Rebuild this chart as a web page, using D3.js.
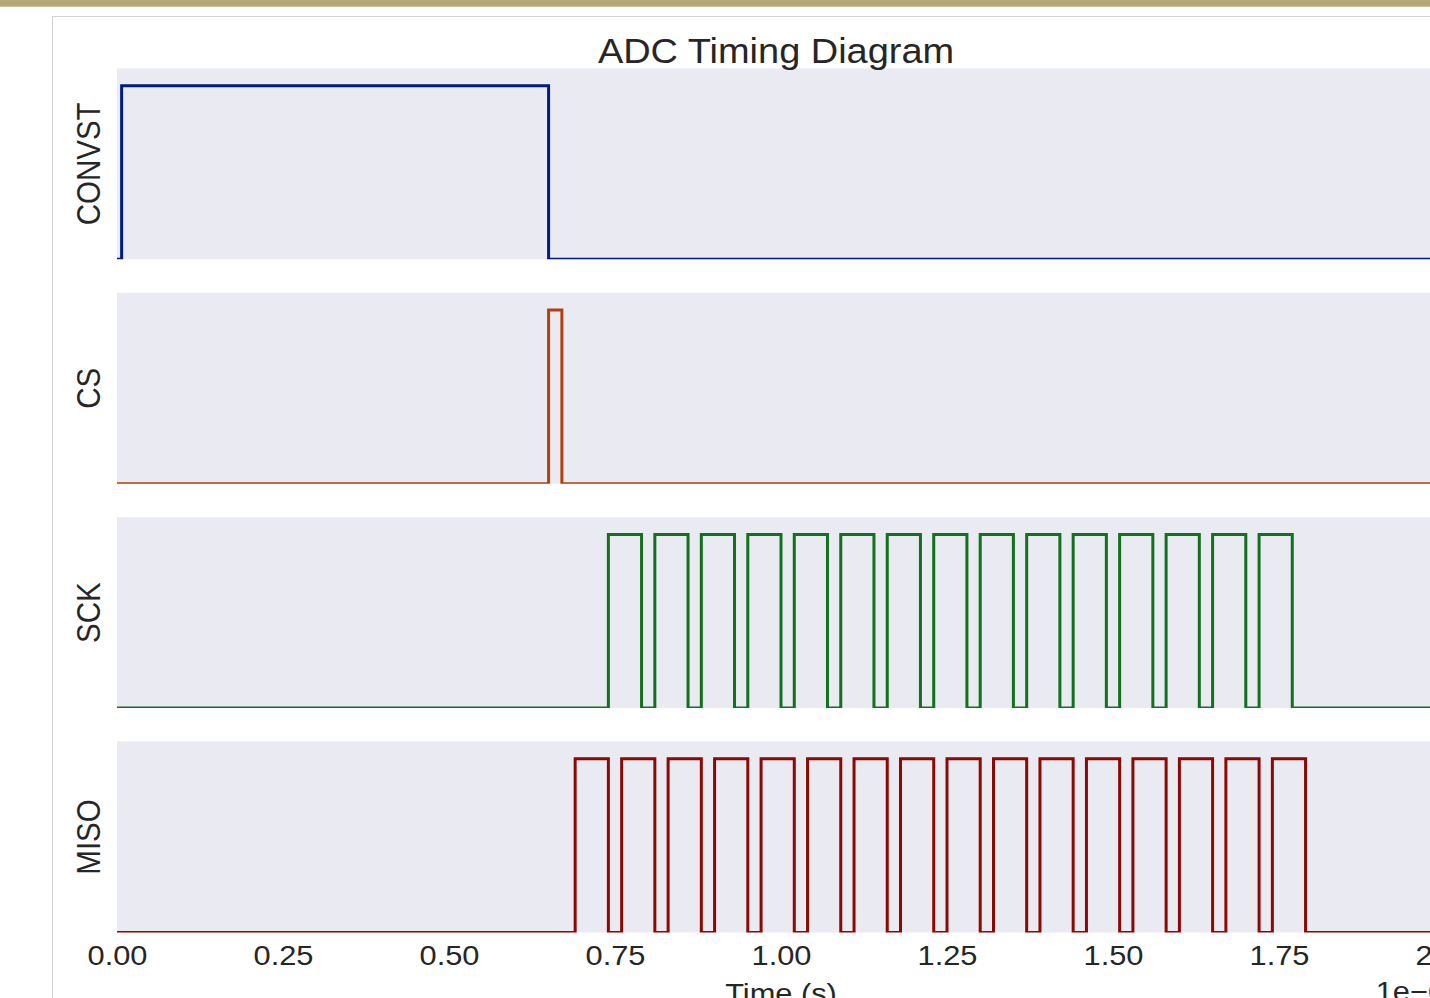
<!DOCTYPE html>
<html>
<head>
<meta charset="utf-8">
<script src="https://cdn.jsdelivr.net/npm/d3@7"></script>
<style>
  html, body { margin: 0; padding: 0; background: #fff; overflow: hidden; }
  svg { display: block; }
  text { font-family: "Liberation Sans", Arial, Helvetica, sans-serif; fill: #262626; }
</style>
</head>
<body>
<svg id="chart" width="1430" height="998"></svg>
<script>
// ---------------- data (times in microseconds, axis shows ×1e−6 s) ----------------
const title = "ADC Timing Diagram";
const xLabel = "Time (s)";
const offsetLabel = "1e\u22126";
const signalNames = ["CONVST", "CS", "SCK", "MISO"];
const signalColors = ["#001c7f", "#b1400d", "#12711c", "#8c0800"];
const xTicks = [0.00, 0.25, 0.50, 0.75, 1.00, 1.25, 1.50, 1.75, 2.00];
const xDomain = [0, 2.0];
const yDomain = [0, 1.1];

// high pulses as [rise, fall] pairs, signal is low elsewhere
const convstPulses = [[0.007, 0.650]];
const csPulses = [[0.650, 0.670]];
const sckPulses = [
  [0.74, 0.79], [0.81, 0.86], [0.88, 0.93], [0.95, 1.00], [1.02, 1.07],
  [1.09, 1.14], [1.16, 1.21], [1.23, 1.28], [1.30, 1.35], [1.37, 1.42],
  [1.44, 1.49], [1.51, 1.56], [1.58, 1.63], [1.65, 1.70], [1.72, 1.77]
];
const misoPulses = [
  [0.69, 0.74], [0.76, 0.81], [0.83, 0.88], [0.90, 0.95], [0.97, 1.02],
  [1.04, 1.09], [1.11, 1.16], [1.18, 1.23], [1.25, 1.30], [1.32, 1.37],
  [1.39, 1.44], [1.46, 1.51], [1.53, 1.58], [1.60, 1.65], [1.67, 1.72],
  [1.74, 1.79]
];
const allPulses = [convstPulses, csPulses, sckPulses, misoPulses];

// ---------------- layout ----------------
const svg = d3.select("#chart");
const SX = 1.1; // horizontal text stretch of the reference
const left = 117, right = 1445;
const panelTop0 = 68.3, panelH = 191, panelPitch = 224.4;

// page chrome
svg.append("rect").attr("x", 0).attr("y", 0).attr("width", 1430).attr("height", 6.7).attr("fill", "#b6a676");
svg.append("rect").attr("x", 52.5).attr("y", 16.5).attr("width", 1500).attr("height", 1100)
  .attr("fill", "#fff").attr("stroke", "#d2d2d2").attr("stroke-width", 1);

const x = d3.scaleLinear().domain(xDomain).range([left, right]);

function toSteps(pulses) {
  const pts = [[xDomain[0], 0]];
  pulses.forEach(([r, f]) => {
    pts.push([r, 0], [r, 1], [f, 1], [f, 0]);
  });
  pts.push([xDomain[1], 0]);
  return pts;
}

signalNames.forEach((name, i) => {
  const top = panelTop0 + i * panelPitch;
  const bottom = top + panelH;
  const y = d3.scaleLinear().domain(yDomain).range([bottom, top]);
  const g = svg.append("g");
  g.append("rect").attr("x", left).attr("y", top).attr("width", right - left).attr("height", panelH)
    .attr("fill", "#eaeaf2");
  const clipId = "clip" + i;
  svg.append("clipPath").attr("id", clipId).append("rect")
    .attr("x", left).attr("y", top).attr("width", right - left).attr("height", panelH);
  const line = d3.line().x(d => x(d[0])).y(d => y(d[1]));
  g.append("path").attr("d", line(toSteps(allPulses[i])))
    .attr("fill", "none").attr("stroke", signalColors[i]).attr("stroke-width", 3)
    .attr("stroke-linejoin", "miter").attr("clip-path", `url(#${clipId})`);
  // y label
  g.append("text")
    .attr("transform", `translate(100,${(top + bottom) / 2}) scale(${SX},1) rotate(-90)`)
    .attr("text-anchor", "middle").attr("font-size", 29.5).text(name);

  if (i === signalNames.length - 1) {
    const axis = d3.axisBottom(x).tickValues(xTicks).tickFormat(d3.format(".2f")).tickSize(0);
    const ag = svg.append("g").attr("transform", `translate(0,${bottom})`).call(axis);
    ag.select(".domain").remove();
    ag.selectAll("text")
      .attr("y", 965 - bottom).attr("dy", null)
      .attr("transform", `scale(${SX},1)`)
      .attr("font-size", 28).attr("fill", "#262626")
      .style("font-family", '"Liberation Sans", Arial, sans-serif');
    svg.append("text").attr("transform", `translate(${(left + right) / 2},1003) scale(${SX},1)`)
      .attr("text-anchor", "middle").attr("font-size", 28).text(xLabel);
    svg.append("text").attr("transform", `translate(${right},1001) scale(${SX},1)`)
      .attr("text-anchor", "end").attr("font-size", 28).text(offsetLabel);
  }
});

svg.append("text").attr("transform", `translate(776,63) scale(${SX},1)`)
  .attr("text-anchor", "middle").attr("font-size", 34.5).text(title);
</script>
</body>
</html>
